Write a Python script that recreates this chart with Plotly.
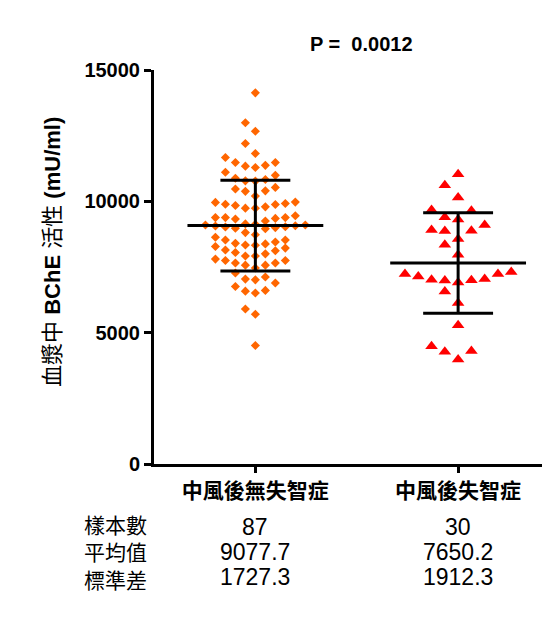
import plotly.graph_objects as go

# ---------------- data ----------------
categories = ["中風後無失智症", "中風後失智症"]
no_dementia = [
    14130, 12990, 12670, 12200, 11820, 11670, 11480, 11480, 11370, 11340, 11290,
    11110, 10990, 10880, 10830, 10780, 10770, 10530, 10470, 10400, 10380, 10200,
    9970, 9960, 9920, 9890, 9880, 9840, 9790, 9740, 9740,
    9450, 9380, 9380, 9380, 9350, 9330, 9250,
    9140, 9130, 9100, 9100, 9070, 9060, 9030, 9020, 9000, 8980, 8960,
    8810, 8730,
    8630, 8530, 8530, 8450, 8400, 8380, 8340, 8330, 8280,
    8220, 8150, 8120, 8050, 8000, 7920, 7920,
    7800, 7750, 7750, 7650, 7650, 7570, 7570, 7460,
    7270, 7120, 7040, 7010,
    6890, 6760, 6610, 6580, 6510,
    5900, 5700, 4510,
]
dementia = [
    11030, 10610, 10150, 9670, 9640, 9390, 9310, 9100, 8910, 8880, 8870,
    8570, 8350, 7970, 7310, 7230, 7230, 7140, 7040, 7010, 7000, 6990, 6910,
    6570, 6130, 5280, 4480, 4300, 4270, 3980,
]
sample_sizes = [87, 30]
means = [9077.7, 7650.2]
sds = [1727.3, 1912.3]
stat_labels = ["樣本數", "平均值", "標準差"]
p_value_text = "P =\u00a0 0.0012"
y_ticks = [0, 5000, 10000, 15000]

# ---------------- layout constants (page pixels) ----------------
BODY = 8                       # default page margin around the plot div
PAGE_W, PAGE_H = 550, 626
PL, PR, PT, PB = 153.5, 550, 69.5, 464   # plot area edges on the page
W, H = PAGE_W - BODY, PAGE_H - BODY
ML, MR, MT, MB = PL - BODY, PAGE_W - PR, PT - BODY, PAGE_H - PB
PW, PH = PR - PL, PB - PT
YMAX = 15000
X0_PX, X1_PX = 255, 458          # page x of the two category centres
px_per_unit = X1_PX - X0_PX
xr = [-(X0_PX - PL) / px_per_unit, (PR - X0_PX) / px_per_unit]
val_per_px = YMAX / PH

LATIN = "Liberation Sans, Arial, sans-serif"
MIXED = "Liberation Sans, Arial, Noto Sans CJK TC, sans-serif"
CJK = "Noto Sans CJK TC, sans-serif"


def px_to_paper_x(px):
    return (px - PL) / PW


def px_to_paper_y(py):
    return (PB - py) / PH


def swarm(values, row_px, step_px):
    """Prism-like row arrangement: group close values into rows,
    spread each row symmetrically from the centre (lowest value in centre)."""
    thr = row_px * val_per_px
    order = sorted(range(len(values)), key=lambda i: values[i])
    rows, cur, start = [], [], None
    for i in order:
        if start is None or values[i] - start > thr:
            if cur:
                rows.append(cur)
            cur, start = [i], values[i]
        else:
            cur.append(i)
    if cur:
        rows.append(cur)
    offs = [0.0] * len(values)
    for row in rows:
        for k, i in enumerate(row):
            lane = 0 if k == 0 else ((k + 1) // 2) * (-1 if k % 2 == 1 else 1)
            offs[i] = lane * step_px / px_per_unit
    return offs


fig = go.Figure()

groups = [
    (no_dementia, "diamond", "#FF6600", 7, 10.2, 10.0),
    (dementia, "triangle-up", "#FF0000", 11, 14.2, 13.3),
]
for gi, (vals, sym, col, size, row_px, step_px) in enumerate(groups):
    offs = swarm(vals, row_px, step_px)
    fig.add_trace(go.Scatter(
        x=[gi + o for o in offs], y=vals, mode="markers",
        marker=dict(symbol=sym, color=col, size=size, line=dict(width=0)),
        showlegend=False, hoverinfo="y",
    ))

# mean and SD bars
MEAN_HALF = 68 / px_per_unit
CAP_HALF = 35 / px_per_unit
for gi in range(len(categories)):
    m, s = means[gi], sds[gi]
    xs = [gi - MEAN_HALF, gi + MEAN_HALF, None,
          gi - CAP_HALF, gi + CAP_HALF, None,
          gi - CAP_HALF, gi + CAP_HALF, None,
          gi, gi]
    ys = [m, m, None, m + s, m + s, None, m - s, m - s, None, m - s, m + s]
    fig.add_trace(go.Scatter(x=xs, y=ys, mode="lines",
                             line=dict(color="black", width=3),
                             showlegend=False, hoverinfo="skip"))

annotations = []
# y-axis title
annotations.append(dict(
    text="血漿中 <b>BChE</b> 活性 <b>(mU/ml)</b>",
    x=px_to_paper_x(52), y=px_to_paper_y(252), xref="paper", yref="paper",
    textangle=-90, showarrow=False, xanchor="center", yanchor="middle",
    font=dict(family=MIXED, size=22, color="black"),
))
# P value
annotations.append(dict(
    text=f"<b>{p_value_text}</b>",
    x=px_to_paper_x(361), y=px_to_paper_y(43), xref="paper", yref="paper",
    showarrow=False, xanchor="center", yanchor="middle",
    font=dict(family=LATIN, size=20, color="black"),
))
# statistics table
row_y = [527, 552, 577]
stats_cols = [
    [str(n) for n in sample_sizes],
    [f"{m:.1f}" for m in means],
    [f"{s:.1f}" for s in sds],
]
annotations.append(dict(
    text="<br>".join(stat_labels), x=px_to_paper_x(81),
    y=px_to_paper_y(row_y[1]), xref="paper", yref="paper", showarrow=False,
    xanchor="left", yanchor="middle", align="left",
    font=dict(family=CJK, size=21, color="black"),
))
for r in range(len(stat_labels)):
    for gi in range(len(categories)):
        annotations.append(dict(
            text=stats_cols[r][gi], x=gi, y=px_to_paper_y(row_y[r]),
            xref="x", yref="paper", showarrow=False,
            xanchor="center", yanchor="middle",
            font=dict(family=LATIN, size=23, color="black"),
        ))

fig.update_layout(
    width=W, height=H,
    margin=dict(l=ML, r=MR, t=MT, b=MB, pad=0),
    paper_bgcolor="white", plot_bgcolor="white",
    annotations=annotations,
    xaxis=dict(
        range=xr, tickvals=list(range(len(categories))), ticktext=categories,
        showgrid=False, zeroline=False, showline=True, linecolor="black",
        linewidth=3, ticks="outside", ticklen=6, tickwidth=3, tickcolor="black",
        tickfont=dict(family=CJK, size=21, color="black", weight="bold"),
        fixedrange=True,
    ),
    yaxis=dict(
        range=[0, YMAX], tickvals=y_ticks, ticktext=[str(t) for t in y_ticks],
        showgrid=False, zeroline=False, showline=True, linecolor="black",
        linewidth=3, ticks="outside", ticklen=7, tickwidth=3, tickcolor="black",
        tickfont=dict(family=LATIN, size=20, color="black", weight="bold"),
        fixedrange=True,
    ),
)

fig.write_html("out.html")
